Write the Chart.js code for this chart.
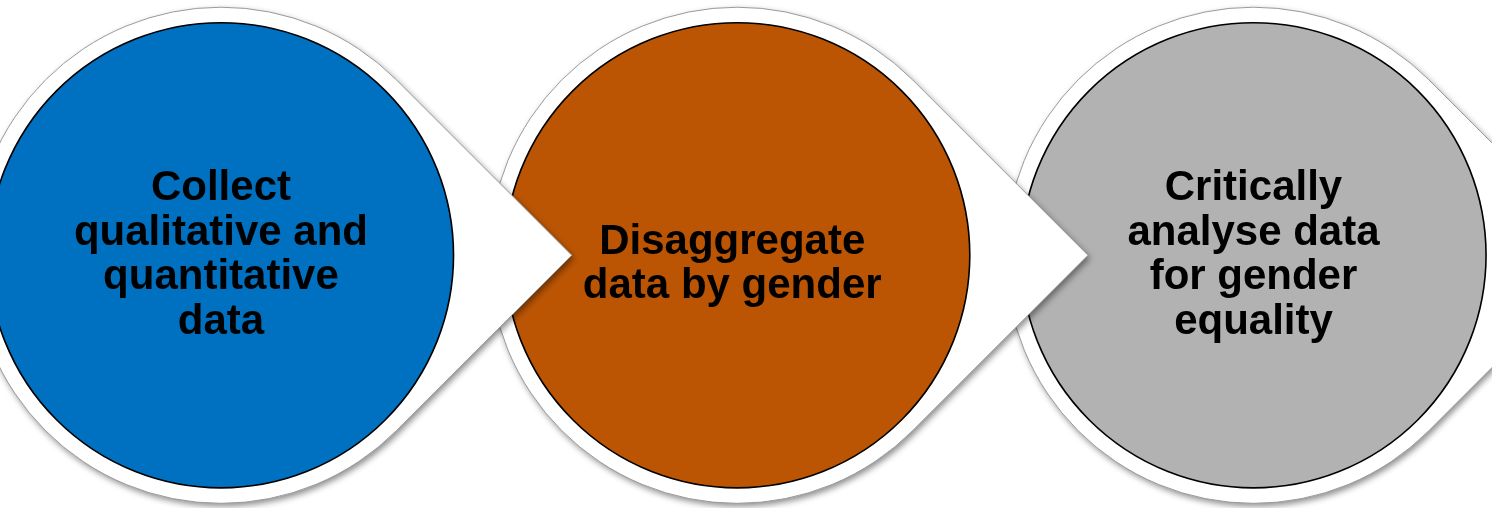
<!DOCTYPE html>
<html lang="en">
<head>
    <meta charset="UTF-8">
    <title>Gender data process</title>
    <style>
        body, html {
            margin: 0;
            padding: 0;
            background-color: #ffffff;
        }
        .wrap {
            width: 1492px;
            height: 508px;
            position: relative;
        }
    </style>
</head>
<body>
    <div class="wrap">
        <canvas id="processChart"></canvas>
    </div>

    <script src="https://cdn.jsdelivr.net/npm/chart.js"></script>
    <script>
        // steps of the process, left to right
        const stepLabels = [
            ['Collect', 'qualitative and', 'quantitative', 'data'],
            ['Disaggregate', 'data by gender'],
            ['Critically', 'analyse data', 'for gender', 'equality']
        ];
        const stepIndex = [0, 1, 2];
        const stepColors = ['#0070C0', '#BB5504', '#B2B2B2'];

        const circleSize = 0.4505; // inner circle radius, in step units
        const ringSize = 0.4805;   // white arrow ring radius, in step units

        function unitPx(chart, v) {
            const x = chart.scales.x;
            return x.getPixelForValue(v) - x.getPixelForValue(0);
        }

        // white circle + arrow point drawn behind each step circle
        const arrowRing = {
            id: 'arrowRing',
            beforeDatasetDraw(chart, args) {
                const el = args.meta.data[0];
                if (!el) return;
                const ctx = chart.ctx;
                const R = unitPx(chart, ringSize);
                const d = R / Math.SQRT2;
                const tipX = el.x + R * Math.SQRT2;
                ctx.save();
                ctx.beginPath();
                ctx.moveTo(tipX, el.y);
                ctx.lineTo(el.x + d, el.y + d);
                ctx.arc(el.x, el.y, R, Math.PI / 4, Math.PI * 7 / 4, false);
                ctx.closePath();
                ctx.shadowColor = 'rgba(0,0,0,0.45)';
                ctx.shadowBlur = 6;
                ctx.shadowOffsetX = 2;
                ctx.shadowOffsetY = 3;
                ctx.fillStyle = '#ffffff';
                ctx.fill();
                ctx.shadowColor = 'transparent';
                ctx.lineWidth = 1;
                ctx.strokeStyle = '#9a9a9a';
                ctx.stroke();
                ctx.restore();
            },
            afterDatasetsDraw(chart, args, opts) {
                const ctx = chart.ctx;
                ctx.save();
                ctx.fillStyle = '#000000';
                ctx.font = 'bold 42px "Liberation Sans", Arial, sans-serif';
                ctx.textAlign = 'center';
                ctx.textBaseline = 'middle';
                const lineH = 44.6;
                chart.data.datasets.forEach((ds, i) => {
                    const el = chart.getDatasetMeta(i).data[0];
                    const lines = stepLabels[i];
                    const top = el.y + (opts.shiftY[i] || 0) - (lines.length - 1) * lineH / 2;
                    lines.forEach((t, k) => {
                        ctx.fillText(t, el.x + (opts.shiftX[i] || 0), top + k * lineH);
                    });
                });
                ctx.restore();
            }
        };

        const datasets = stepIndex.map((idx, i) => ({
            label: stepLabels[i].join(' '),
            data: [{x: idx, y: 0}],
            pointBackgroundColor: stepColors[i],
            pointBorderColor: '#000000',
            pointBorderWidth: 1.6,
            pointHoverBorderWidth: 1.6,
            pointRadius: c => unitPx(c.chart, circleSize),
            pointHoverRadius: c => unitPx(c.chart, circleSize),
            showLine: false,
            clip: false
        }));

        new Chart(document.getElementById('processChart'), {
            type: 'scatter',
            data: { datasets: datasets },
            options: {
                responsive: true,
                maintainAspectRatio: false,
                animation: false,
                events: [],
                layout: { padding: 0 },
                scales: {
                    x: { type: 'linear', min: -0.428, max: 2.462, display: false },
                    y: { type: 'linear', min: -0.99, max: 1, display: false }
                },
                plugins: {
                    legend: { display: false },
                    tooltip: { enabled: false },
                    arrowRing: { shiftX: [0, -5, 0], shiftY: [0, 9, 0] }
                }
            },
            plugins: [arrowRing]
        });
    </script>
</body>
</html>
